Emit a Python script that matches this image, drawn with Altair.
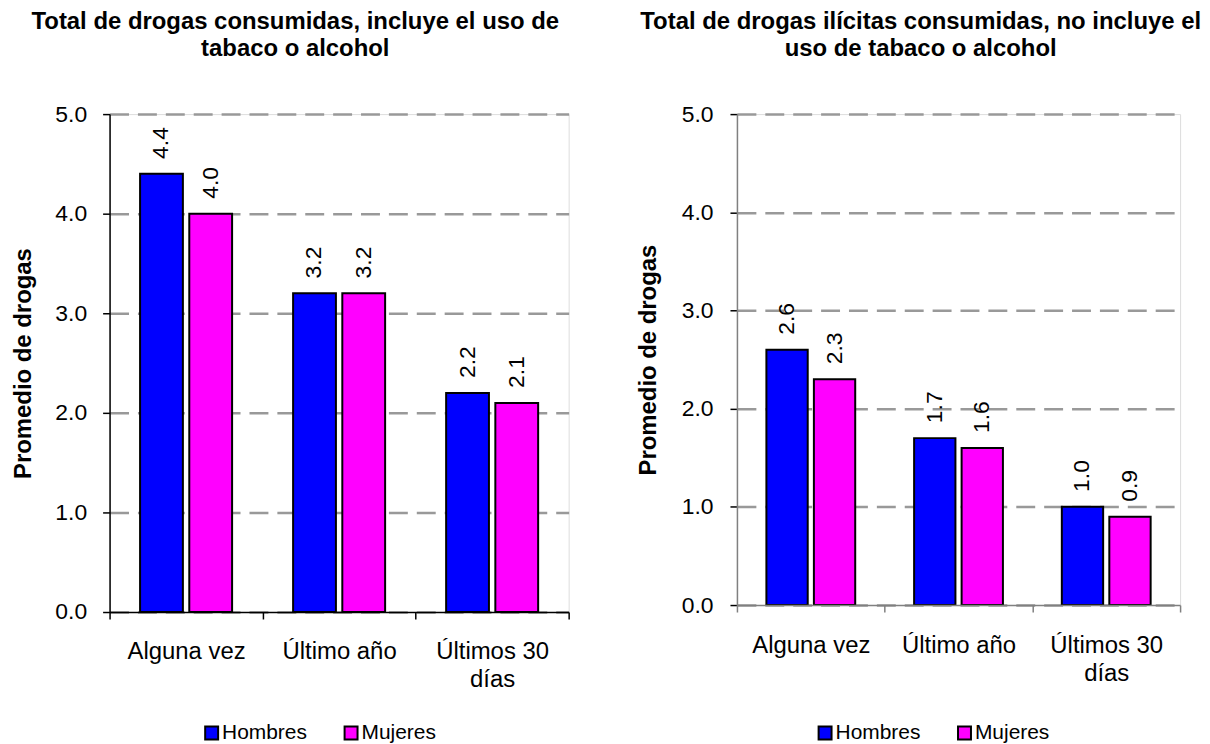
import altair as alt
import pandas as pd

categorias = ["Alguna vez", "Último año", "Últimos 30 días"]
sexos = ["Hombres", "Mujeres"]
colores = ["#0000FF", "#FF00FF"]

# Panel izquierdo: incluye tabaco o alcohol
izq_hombres = [4.4, 3.2, 2.2]
izq_mujeres = [4.0, 3.2, 2.1]
# Panel derecho: drogas ilícitas, no incluye tabaco o alcohol
der_hombres = [2.6, 1.7, 1.0]
der_mujeres = [2.3, 1.6, 0.9]

titulo_izq = ["Total de drogas consumidas, incluye el uso de", "tabaco o alcohol"]
titulo_der = ["Total de drogas ilícitas consumidas, no incluye el", "uso de tabaco o alcohol"]
y_titulo = "Promedio de drogas"
y_ticks = [0, 1, 2, 3, 4, 5]

FONT = "Liberation Sans"


def make_df(h, m):
    rows = []
    for c, v in zip(categorias, h):
        rows.append({"cat": c, "sexo": "Hombres", "valor": v})
    for c, v in zip(categorias, m):
        rows.append({"cat": c, "sexo": "Mujeres", "valor": v})
    return pd.DataFrame(rows)


def panel(df, title, width, height, title_dx, axis_color, title_pad, label_pad, x_label_pad, leg_x, leg_y):
    base = alt.Chart(df).encode(
        x=alt.X(
            "cat:N",
            sort=categorias,
            scale=alt.Scale(paddingInner=0, paddingOuter=0),
            axis=alt.Axis(
                title=None,
                labelAngle=0,
                labelFontSize=24,
                labelFont=FONT,
                labelColor="black",
                labelPadding=x_label_pad,
                labelLineHeight=28,
                labelExpr="datum.value == 'Últimos 30 días' ? ['Últimos 30', 'días'] : datum.value",
                tickBand="extent",
                tickSize=7,
                tickColor=axis_color,
                tickWidth=1.5,
                domainColor=axis_color,
                domainWidth=1.5,
                zindex=1,
            ),
        ),
        xOffset=alt.XOffset(
            "sexo:N", sort=sexos, scale=alt.Scale(paddingInner=0.13, paddingOuter=0.62)
        ),
        y=alt.Y(
            "valor:Q",
            scale=alt.Scale(domain=[0, 5], nice=False),
            axis=alt.Axis(
                title=y_titulo,
                titleFontSize=24,
                titleFont=FONT,
                titleFontWeight="bold",
                titleColor="black",
                titlePadding=title_pad,
                values=y_ticks,
                format=".1f",
                labelFontSize=23,
                labelFont=FONT,
                labelColor="black",
                labelPadding=label_pad,
                tickSize=7,
                tickColor="black",
                tickWidth=1.5,
                domainColor=axis_color,
                domainWidth=1.5,
                grid=True,
                gridColor="#999999",
                gridWidth=2.5,
                gridDash=[19, 9],
            ),
        ),
    )
    bars = base.mark_bar(stroke="black", strokeWidth=2).encode(
        color=alt.Color(
            "sexo:N",
            sort=sexos,
            scale=alt.Scale(domain=sexos, range=colores),
            legend=alt.Legend(
                title=None,
                orient="none",
                direction="horizontal",
                legendX=leg_x,
                legendY=leg_y,
                symbolType="square",
                symbolSize=169,
                symbolStrokeColor="black",
                symbolStrokeWidth=2,
                labelFontSize=21,
                labelFont=FONT,
                labelColor="black",
                labelOffset=0,
                columnPadding=33,
                padding=0,
            ),
        )
    )
    text = base.mark_text(
        angle=270, align="left", baseline="middle", dx=15, fontSize=23, font=FONT, color="black"
    ).encode(text=alt.Text("valor:Q", format=".1f"))
    return alt.layer(bars, text).properties(
        width=width,
        height=height,
        title=alt.Title(
            title,
            fontSize=24,
            font=FONT,
            fontWeight="bold",
            color="black",
            anchor="middle",
            dx=title_dx,
            offset=42,
            lineHeight=27,
        ),
    )


left = panel(make_df(izq_hombres, izq_mujeres), titulo_izq, 461, 500, -44, "black", 19, 16, 21, 92, 611)
right = panel(make_df(der_hombres, der_mujeres), titulo_der, 445, 493, -38, "#808080", 21, 17, 22, 78, 611)

chart = (
    alt.hconcat(left, right, spacing=65)
    .resolve_scale(color="independent", x="independent", xOffset="independent", y="independent")
    .properties(padding={"left": 3, "top": 0, "right": 0, "bottom": 0})
    .configure_view(stroke=None)
    .configure(font=FONT)
)

chart.save("out.html", embed_options={"renderer": "svg", "actions": False})
